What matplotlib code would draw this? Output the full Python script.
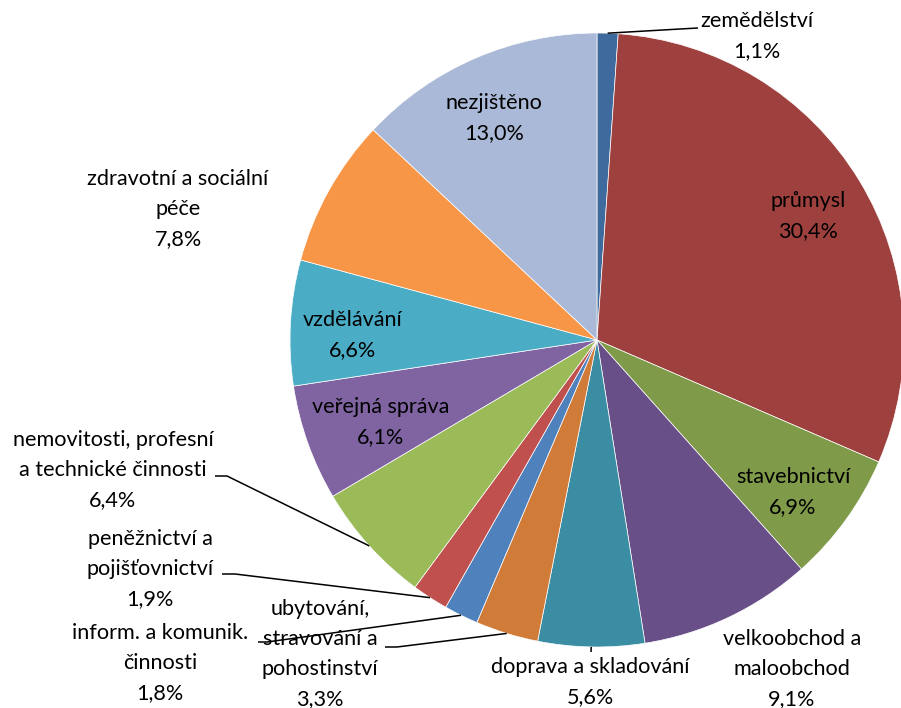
import numpy as np
import matplotlib
matplotlib.use("Agg")
import matplotlib.pyplot as plt

plt.rcParams["font.family"] = ["Lato", "DejaVu Sans"]

# odvětví a podíly (%)
labels = ["zemědělství", "průmysl", "stavebnictví", "velkoobchod a\nmaloobchod",
          "doprava a skladování", "ubytování,\nstravování a\npohostinství",
          "inform. a komunik.\nčinnosti", "peněžnictví a\npojišťovnictví",
          "nemovitosti, profesní\na technické činnosti", "veřejná správa",
          "vzdělávání", "zdravotní a sociální\npéče", "nezjištěno"]
shares = [1.1, 30.4, 6.9, 9.1, 5.6, 3.3, 1.8, 1.9, 6.4, 6.1, 6.6, 7.8, 13.0]
colors = ["#3F6A9E", "#9E413E", "#7F9A48", "#694F88", "#3B8DA3", "#D07C38",
          "#4F81BD", "#C0504D", "#9BBB59", "#8064A2", "#4BACC6", "#F79646",
          "#AAB9D7"]

W, H = 901, 708
CX, CY, R = 597, 340, 307

# popisky: střed textu (px shora), případně konec vodicí čáry u textu
label_pos = [(757, 36), (808, 216), (793, 492), (792, 669), (590, 682),
             (320, 654), (160, 663), (150, 569), (113, 470), (381, 422),
             (353, 335), (178, 209), (494, 118)]
leader_end = {0: [(680, 29), (698, 28)],
              4: [(591, 652)],
              5: [(397, 647), (385, 647)],
              6: [(267, 642), (258, 642)],
              7: [(235, 574), (222, 574)],
              8: [(227, 476), (215, 476)]}

fig = plt.figure(figsize=(W / 100, H / 100), dpi=100)
ax = fig.add_axes([0, 0, 1, 1])
ax.set_xlim(0, W)
ax.set_ylim(0, H)
ax.set_aspect("equal")
ax.axis("off")

wedges, _ = ax.pie(shares, colors=colors, startangle=90, counterclock=False,
                   center=(CX, H - CY), radius=R,
                   wedgeprops=dict(edgecolor="white", linewidth=0.5))
ax.set_xlim(0, W)
ax.set_ylim(0, H)

for i, (lab, val) in enumerate(zip(labels, shares)):
    x, y = label_pos[i]
    txt = lab + "\n" + f"{val:.1f}".replace(".", ",") + "%"
    ax.text(x, H - y, txt, ha="center", va="center", multialignment="center",
            fontsize=15.6, linespacing=1.62, color="black")
    if i in leader_end:
        w = wedges[i]
        ang = np.deg2rad((w.theta1 + w.theta2) / 2)
        pts = [(CX + R * np.cos(ang), H - CY + R * np.sin(ang))]
        pts += [(px, H - py) for px, py in leader_end[i]]
        xs, ys = zip(*pts)
        ax.plot(xs, ys, color="black", linewidth=1.1, solid_capstyle="butt")

fig.savefig("out.png", dpi=100)
